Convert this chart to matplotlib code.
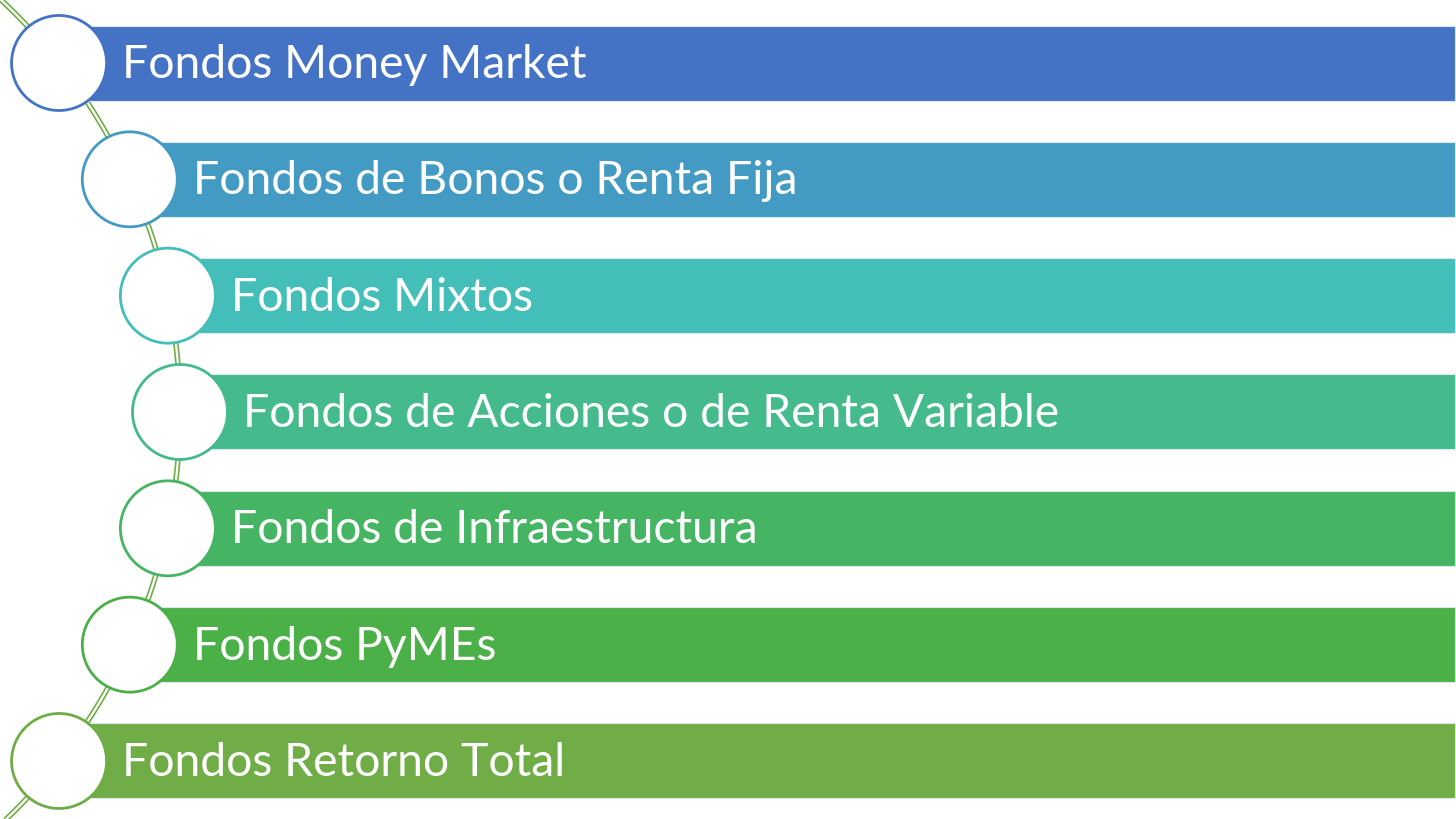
import numpy as np
import matplotlib.pyplot as plt
from matplotlib.patches import Circle, Rectangle

labels = ["Fondos Money Market", "Fondos de Bonos o Renta Fija", "Fondos Mixtos",
          "Fondos de Acciones o de Renta Variable", "Fondos de Infraestructura",
          "Fondos PyMEs", "Fondos Retorno Total"]
colors = ["#4472C4", "#439AC2", "#44BEB8", "#44BA8D", "#46B563", "#4CB049", "#70AD47"]

W, H = 1456, 820
fig = plt.figure(figsize=(W / 100, H / 100), dpi=100)
ax = fig.add_axes([0, 0, 1, 1])
ax.set_xlim(0, W)
ax.set_ylim(H, 0)
ax.axis("off")

# arc through the circle centres
acx, acy, R = -384, 413, 564
n = len(labels)
ys = 64 + np.arange(n) * 116.33
xs = acx + np.sqrt(R**2 - (ys - acy)**2)

t = np.linspace(-0.85, 0.85, 300)
ax.plot(acx + R * np.cos(t), acy + R * np.sin(t), color="#70AD47", lw=4, zorder=1,
        solid_capstyle="butt")
ax.plot(acx + R * np.cos(t), acy + R * np.sin(t), color="white", lw=1.6, zorder=1.1,
        solid_capstyle="butt")

for i in range(n):
    x, y, c = xs[i], ys[i], colors[i]
    ax.add_patch(Rectangle((x, y - 37.5), W - 1 - x, 75, facecolor=c,
                           edgecolor="#dde6f3", lw=0.8, zorder=2))
    ax.add_patch(Circle((x, y), 47.5, facecolor="white", edgecolor=c, lw=2, zorder=3))
    ax.text(x + 63, y + 1, labels[i], color="white", fontsize=33.3, family="Lato",
            va="center", ha="left", zorder=4)

fig.savefig("out.png", dpi=100)
